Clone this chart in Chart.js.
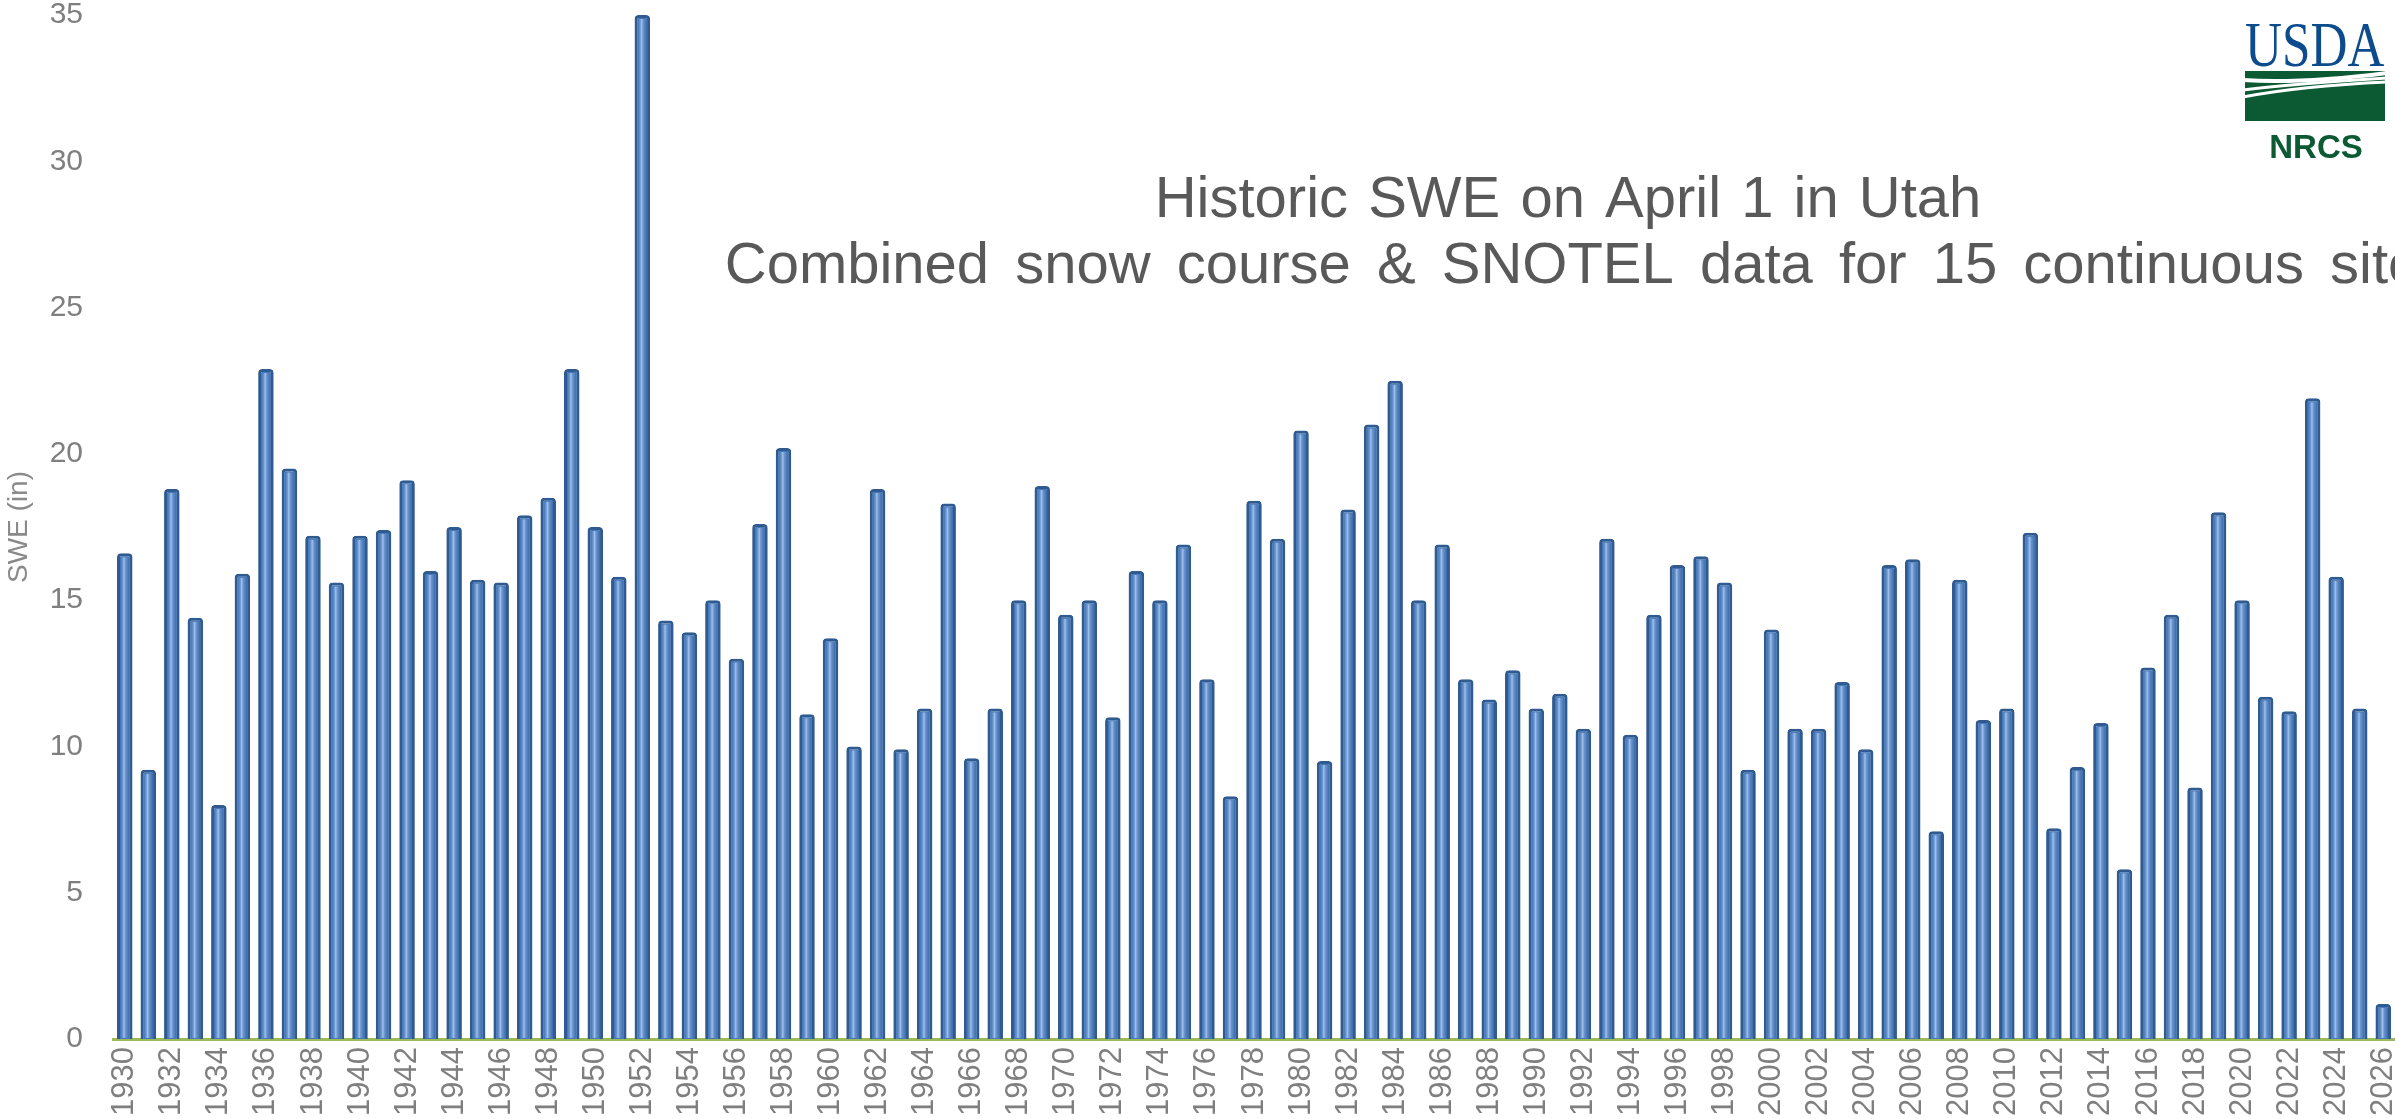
<!DOCTYPE html>
<html>
<head>
<meta charset="utf-8">
<title>Historic SWE on April 1 in Utah</title>
<script src="https://cdn.jsdelivr.net/npm/chart.js@4.4.1/dist/chart.umd.min.js"></script>
<style>
  html, body { margin: 0; padding: 0; background: #fff; }
  #wrap { width: 2395px; height: 1119px; position: relative; }
</style>
</head>
<body>
<div id="wrap"><canvas id="sweChart"></canvas></div>
<script>
// data
const firstYear = 1930;
const lastYear = 2026;
const years = [];
for (let y = firstYear; y <= lastYear; y++) years.push(String(y));

const swe = [
  16.6, 9.2, 18.8, 14.4, 8.0, 15.9, 22.9, 19.5, 17.2, 15.6,
  17.2, 17.4, 19.1, 16.0, 17.5, 15.7, 15.6, 17.9, 18.5, 22.9,
  17.5, 15.8, 35.0, 14.3, 13.9, 15.0, 13.0, 17.6, 20.2, 11.1,
  13.7, 10.0, 18.8, 9.9, 11.3, 18.3, 9.6, 11.3, 15.0, 18.9,
  14.5, 15.0, 11.0, 16.0, 15.0, 16.9, 12.3, 8.3, 18.4, 17.1,
  20.8, 9.5, 18.1, 21.0, 22.5, 15.0, 16.9, 12.3, 11.6, 12.6,
  11.3, 11.8, 10.6, 17.1, 10.4, 14.5, 16.2, 16.5, 15.6, 9.2,
  14.0, 10.6, 10.6, 12.2, 9.9, 16.2, 16.4, 7.1, 15.7, 10.9,
  11.3, 17.3, 7.2, 9.3, 10.8, 5.8, 12.7, 14.5, 8.6, 18.0,
  15.0, 11.7, 11.2, 21.9, 15.8, 11.3, 1.2
];

const yTicks = [0, 5, 10, 15, 20, 25, 30, 35];
const titleLines = [
  "Historic SWE on April 1 in Utah",
  "Combined snow course & SNOTEL data for 15 continuous sites"
];

// light stripe inside each bar, like the bevelled office look
const barShine = {
  id: "barShine",
  afterDatasetsDraw(chart) {
    const ctx = chart.ctx;
    const meta = chart.getDatasetMeta(0);
    ctx.save();
    meta.data.forEach(function (bar) {
      const p = bar.getProps(["x", "y", "base", "width"], true);
      const l = p.x - p.width / 2 + 3;
      const r = p.x + p.width / 2 - 3;
      const top = p.y + 4;
      const bottom = p.base - 1;
      if (bottom - top < 2) return;
      const g = ctx.createLinearGradient(l, 0, r, 0);
      g.addColorStop(0, "#3f70b0");
      g.addColorStop(0.28, "#6a97d3");
      g.addColorStop(0.42, "#a2c1e9");
      g.addColorStop(0.58, "#6b96d0");
      g.addColorStop(1, "#3b6aa8");
      ctx.fillStyle = g;
      ctx.fillRect(l, top, r - l, bottom - top);
    });
    ctx.restore();
  }
};

// title text and the USDA / NRCS mark
const decorations = {
  id: "decorations",
  afterDraw(chart) {
    const ctx = chart.ctx;
    ctx.save();
    ctx.fillStyle = "#595959";
    ctx.textAlign = "center";
    ctx.textBaseline = "alphabetic";
    ctx.font = '58px "Liberation Sans", Arial, sans-serif';
    ctx.wordSpacing = "4px";
    ctx.fillText(titleLines[0], 1568, 217);
    ctx.wordSpacing = "10px";
    ctx.fillText(titleLines[1], 1587, 283);
    ctx.wordSpacing = "0px";

    // USDA
    ctx.save();
    ctx.translate(2245, 66);
    ctx.scale(0.8, 1);
    ctx.fillStyle = "#0d4c8c";
    ctx.textAlign = "left";
    ctx.font = '64px "Liberation Serif", "Times New Roman", serif';
    ctx.fillText("USDA", 0, 0);
    ctx.restore();

    // green field with white sweeps
    ctx.fillStyle = "#0b5a33";
    ctx.fillRect(2245, 71, 140, 50);
    ctx.strokeStyle = "#ffffff";
    ctx.lineWidth = 4;
    ctx.beginPath();
    ctx.moveTo(2243, 80);
    ctx.quadraticCurveTo(2300, 84, 2387, 73);
    ctx.stroke();
    ctx.lineWidth = 3;
    ctx.beginPath();
    ctx.moveTo(2243, 90);
    ctx.quadraticCurveTo(2290, 84, 2387, 78);
    ctx.stroke();
    ctx.beginPath();
    ctx.moveTo(2243, 97);
    ctx.quadraticCurveTo(2300, 86, 2387, 82);
    ctx.stroke();

    // NRCS
    ctx.fillStyle = "#0b5a33";
    ctx.textAlign = "center";
    ctx.font = 'bold 33px "Liberation Sans", Arial, sans-serif';
    ctx.fillText("NRCS", 2316, 158);
    ctx.restore();
  }
};

const ctx = document.getElementById("sweChart").getContext("2d");
const sweChart = new Chart(ctx, {
  type: "bar",
  data: {
    labels: years,
    datasets: [
      {
        label: "SWE (in)",
        data: swe,
        backgroundColor: "#4677b8",
        borderColor: "#2f5b91",
        borderWidth: 3,
        borderSkipped: "bottom",
        borderRadius: { topLeft: 4, topRight: 4, bottomLeft: 0, bottomRight: 0 },
        barPercentage: 0.66,
        categoryPercentage: 1.0,
      },
    ],
  },
  options: {
    responsive: true,
    maintainAspectRatio: false,
    animation: false,
    layout: { padding: { top: 15, right: 0, bottom: 0, left: 0 } },
    plugins: {
      legend: { display: false },
      title: { display: false },
      tooltip: { enabled: false },
    },
    scales: {
      x: {
        offset: true,
        grid: { display: false, drawTicks: false },
        border: { display: true, color: "#9bbb59", width: 3 },
        ticks: {
          autoSkip: false,
          minRotation: 90,
          maxRotation: 90,
          padding: 8,
          color: "#7f7f7f",
          font: { family: '"Liberation Sans", Arial, sans-serif', size: 31 },
          callback: function (val, i) {
            return i % 2 === 0 ? this.getLabelForValue(val) : "";
          },
        },
        afterFit: function (scale) {
          scale.height = 80;
          scale.paddingLeft = 0;
          scale.paddingRight = 0;
        },
      },
      y: {
        min: 0,
        max: 35,
        grid: { display: false, drawTicks: false },
        border: { display: false },
        ticks: {
          padding: 30,
          color: "#7f7f7f",
          font: { family: '"Liberation Sans", Arial, sans-serif', size: 30 },
        },
        afterBuildTicks: function (scale) {
          scale.ticks = yTicks.map(function (v) { return { value: v }; });
        },
        title: {
          display: true,
          text: "SWE (in)",
          color: "#8a8a8a",
          padding: { top: 2, bottom: 0 },
          font: { family: '"Liberation Sans", Arial, sans-serif', size: 28 },
        },
        afterFit: function (scale) {
          scale.width = 113;
          scale.paddingTop = 0;
          scale.paddingBottom = 0;
        },
      },
    },
  },
  plugins: [barShine, decorations],
});
</script>
</body>
</html>
